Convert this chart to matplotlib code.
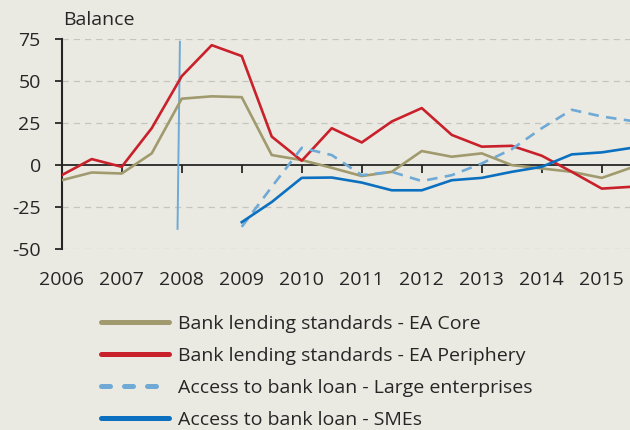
import matplotlib
matplotlib.use("Agg")
import numpy as np
import matplotlib.pyplot as plt
from matplotlib.lines import Line2D

# half-yearly observations
periods = [2006.0, 2006.5, 2007.0, 2007.5, 2008.0, 2008.5, 2009.0, 2009.5, 2010.0, 2010.5,
           2011.0, 2011.5, 2012.0, 2012.5, 2013.0, 2013.5, 2014.0, 2014.5, 2015.0, 2015.5]

ea_core = [-9, -4.4, -5, 7, 39.6, 41, 40.5, 6, 3, -1.6,
           -6.5, -4, 8.4, 5, 7, 0, -2, -4, -7.6, -1.4]
ea_periphery = [-6, 3.6, -1, 22, 53, 71.5, 65, 17, 2.6, 22,
                13.5, 26, 34, 18, 11, 11.5, 5.6, -4, -14, -12.9]
large_ent = [np.nan, np.nan, np.nan, np.nan, np.nan, np.nan, -36.8, -13, 10.3, 6,
             -6, -4, -9.5, -6, 1, 9.5, 22, 33, 29, 26.3]
smes = [np.nan, np.nan, np.nan, np.nan, np.nan, np.nan, -34, -22, -7.6, -7.4,
        -10.4, -15, -15, -9, -7.6, -4, -1, 6.4, 7.6, 10.3]

labels = ["Bank lending standards - EA Core",
          "Bank lending standards - EA Periphery",
          "Access to bank loan - Large enterprises",
          "Access to bank loan - SMEs"]

year_ticks = [2006, 2007, 2008, 2009, 2010, 2011, 2012, 2013, 2014, 2015]
y_ticks = [-50, -25, 0, 25, 50, 75]

# marker line (crisis onset)
marker_x = [2007.93, 2007.97]
marker_y = [-38, 73.5]

bg = '#ebeae2'
text_color = '#262626'
c_core = '#a09a6e'
c_peri = '#c9212b'
c_large = '#6fa9d6'
c_sme = '#0b70c0'

plt.rcParams['font.family'] = ['Open Sans', 'DejaVu Sans']
plt.rcParams['axes.unicode_minus'] = False

fig = plt.figure(figsize=(6.3, 4.3), dpi=100, facecolor=bg)
ax = fig.add_axes([61.7 / 630, 1 - 249 / 430, 1 - 61.7 / 630, (249 - 39.3) / 430])
ax.set_facecolor(bg)

for y in [-50, -25, 25, 50, 75]:
    ax.axhline(y, color='#c4c4c0', lw=0.9, ls=(0, (5, 4)), zorder=1)
ax.axhline(0, color=text_color, lw=1.3, zorder=2)
ax.vlines(year_ticks[1:], -4.5, 0, color=text_color, lw=1.3, zorder=2)

ax.plot(marker_x, marker_y, color='#6fa9d6', lw=1.4, zorder=3)

lw = 1.9
ax.plot(periods, ea_core, color=c_core, lw=lw, zorder=4, solid_joinstyle='round')
ax.plot(periods, ea_periphery, color=c_peri, lw=lw, zorder=4, solid_joinstyle='round')
ax.plot(periods, large_ent, color=c_large, lw=lw, dashes=(4, 2.8), zorder=4)
ax.plot(periods, smes, color=c_sme, lw=lw, zorder=5, solid_joinstyle='round')

ax.set_xlim(2006, 2015.47)
ax.set_ylim(-50, 75)
ax.set_xticks(year_ticks)
ax.set_xticklabels([str(y) for y in year_ticks])
ax.set_yticks(y_ticks)
ax.tick_params(axis='x', length=0, pad=16, labelsize=14, colors=text_color)
ax.tick_params(axis='y', length=5, width=1.3, pad=10, labelsize=14, colors=text_color)
for s in ['top', 'right', 'bottom']:
    ax.spines[s].set_visible(False)
ax.spines['left'].set_color(text_color)
ax.spines['left'].set_linewidth(1.5)

fig.text(63 / 630, 1 - 20 / 430, "Balance", fontsize=14, color=text_color, va='center', ha='left')

handles = [
    Line2D([], [], color=c_core, lw=3.6, solid_capstyle='round'),
    Line2D([], [], color=c_peri, lw=3.6, solid_capstyle='round'),
    Line2D([], [], color=c_large, lw=3.6, dashes=(1.8, 2.8), dash_capstyle='round'),
    Line2D([], [], color=c_sme, lw=3.6, solid_capstyle='round'),
]
leg = fig.legend(handles, labels, loc='upper left', bbox_to_anchor=(101 / 630, 1 - 315 / 430),
                 frameon=False, fontsize=14, handlelength=3.5, handletextpad=0.45,
                 labelspacing=0.72, borderpad=0, borderaxespad=0)
for t in leg.get_texts():
    t.set_color(text_color)

fig.savefig('out.png', dpi=100, facecolor=bg)
